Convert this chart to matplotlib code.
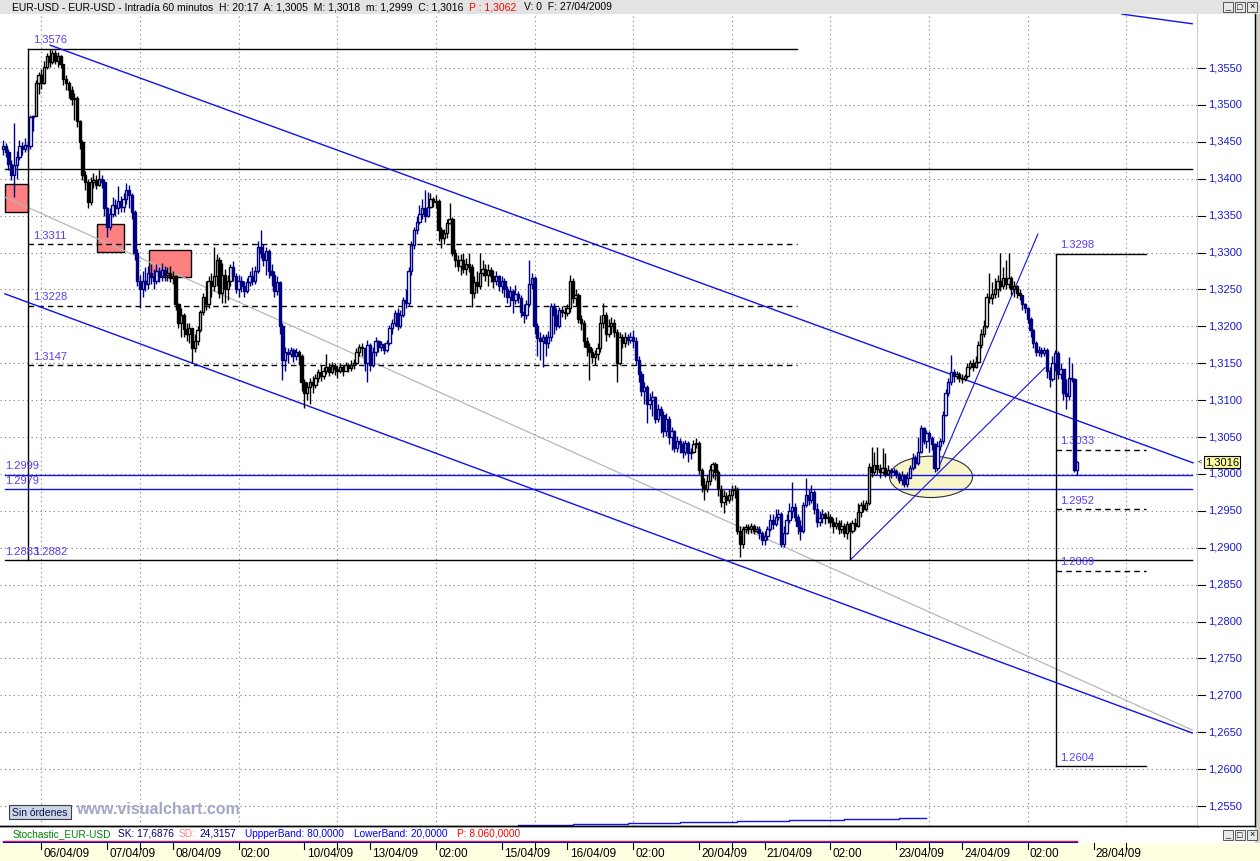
import numpy as np
import matplotlib
matplotlib.use('Agg')
import matplotlib.pyplot as plt
from matplotlib.patches import Rectangle, Ellipse

plt.rcParams['font.family'] = ['Liberation Sans', 'DejaVu Sans']

W, H = 1260, 861

# EUR-USD hourly bars, values in pips above 1.3000 (one list row per trading day)
OPEN0 = 440
CLOSE = [
    445, 436, 420, 405, 418, 430, 444, 440, 446, 444, 484, 485,
    530, 540, 530, 552, 566, 558, 570, 560, 566, 555, 535, 530, 520, 508, 510, 478, 450, 405, 395, 368, 395, 398, 392, 400,
    395, 360, 335, 352, 365, 360, 370, 362, 372, 385, 378, 355, 300, 262, 250, 262, 258, 272, 268, 262, 275, 268, 276, 270,
    272, 265, 268, 230, 205, 215, 196, 190, 198, 170, 180, 195, 220, 240, 230, 262, 255, 268, 290, 245, 270, 250, 262, 280,
    268, 250, 262, 255, 248, 260, 268, 262, 275, 308, 300, 290, 302, 275, 270, 248, 260, 200, 155, 165, 162, 168, 160, 165,
    160, 125, 110, 118, 125, 120, 130, 138, 132, 140, 145, 138, 146, 142, 140, 145, 140, 148, 143, 148, 150, 165, 172, 170,
    150, 175, 148, 165, 180, 172, 176, 168, 178, 198, 205, 218, 200, 215, 236, 232, 275, 310, 330, 342, 352, 360, 350, 362,
    372, 368, 370, 330, 320, 326, 340, 345, 300, 290, 282, 290, 278, 285, 280, 245, 260, 255, 272, 278, 270, 276, 268, 262,
    268, 255, 262, 250, 240, 248, 236, 244, 238, 220, 215, 230, 258, 265, 200, 184, 180, 186, 178, 185, 228, 215, 200, 222,
    220, 218, 225, 262, 238, 242, 210, 205, 180, 172, 165, 158, 162, 170, 205, 215, 190, 200, 205, 192, 150, 185, 178, 185,
    182, 185, 180, 155, 135, 112, 118, 95, 100, 104, 75, 88, 80, 58, 75, 50, 58, 35, 45, 40, 30, 42, 28, 30,
    40, 42, 5, -15, -20, -10, 5, 14, 2, -20, -38, -30, -36, -28, -22, -20, -78, -95, -75, -72, -75, -70, -78, -74,
    -80, -90, -84, -74, -62, -68, -58, -55, -95, -80, -62, -50, -45, -58, -70, -78, -42, -28, -35, -25, -48, -65, -60, -55,
    -60, -58, -65, -70, -66, -75, -70, -80, -68, -78, -66, -70, -52, -42, -48, -40, 10, 2, 12, 6, 2, 8, 0, 5,
    2, 4, 0, -8, -2, -14, -5, 8, 22, 15, 30, 62, 45, 55, 48, 40, 8, 38, 45, 80, 110, 125, 138, 132,
    135, 130, 128, 132, 145, 150, 145, 152, 175, 190, 200, 240, 238, 244, 250, 262, 255, 265, 258, 266, 250, 255, 245, 242,
    230, 225, 210, 195, 178, 165, 168, 164, 168, 140, 128, 150, 164, 135, 142, 110, 105, 130, 128, 5, 16,
]
HIGH = [
    452, 448, 440, 425, 475, 438, 452, 450, 455, 450, 487, 487,
    534, 545, 548, 560, 570, 576, 575, 574, 572, 568, 556, 540, 532, 525, 516, 512, 480, 452, 410, 400, 402, 408, 405, 412,
    405, 400, 362, 360, 375, 372, 390, 376, 380, 394, 392, 380, 358, 305, 270, 275, 280, 282, 285, 278, 284, 280, 286, 282,
    280, 282, 275, 270, 232, 225, 218, 205, 205, 198, 190, 200, 222, 245, 262, 268, 272, 307, 298, 294, 286, 278, 270, 285,
    288, 272, 270, 268, 262, 265, 275, 280, 282, 315, 330, 312, 308, 305, 285, 275, 268, 262, 205, 172, 170, 172, 170, 170,
    168, 162, 128, 124, 130, 132, 135, 142, 148, 145, 162, 150, 152, 150, 148, 150, 148, 152, 150, 154, 156, 170, 176, 178,
    160, 181, 178, 172, 185, 182, 180, 178, 182, 202, 210, 222, 225, 222, 240, 250, 280, 315, 335, 350, 365, 372, 385, 382,
    380, 375, 378, 372, 335, 332, 345, 367, 348, 305, 296, 298, 300, 292, 300, 285, 268, 275, 300, 290, 285, 284, 280, 276,
    275, 270, 268, 265, 255, 255, 250, 256, 248, 242, 230, 236, 290, 272, 268, 205, 192, 190, 190, 194, 232, 232, 225, 226,
    228, 226, 230, 270, 265, 250, 245, 215, 208, 185, 178, 170, 168, 178, 215, 232, 220, 210, 212, 210, 196, 192, 190, 192,
    190, 192, 195, 185, 160, 140, 125, 120, 110, 112, 106, 95, 92, 85, 82, 78, 64, 60, 52, 48, 44, 46, 44, 35,
    46, 48, 45, 8, -5, -2, 12, 16, 16, 5, -15, -22, -25, -20, -15, -15, -18, -70, -70, -68, -68, -66, -68, -70,
    -70, -78, -78, -70, -55, -55, -48, -48, -52, -70, -55, -40, -11, -40, -55, -62, -38, -5, -20, -15, -22, -40, -50, -48,
    -52, -50, -55, -60, -58, -62, -62, -66, -64, -65, -62, -60, -40, -38, -35, -35, 15, 36, 30, 36, 14, 35, 28, 12,
    8, 8, 6, 2, 4, 0, 2, 12, 28, 25, 50, 66, 64, 60, 58, 52, 42, 45, 48, 85, 115, 130, 161, 142,
    140, 138, 135, 136, 150, 155, 156, 160, 180, 196, 208, 245, 272, 260, 265, 270, 299, 280, 290, 299, 268, 262, 256, 250,
    235, 232, 226, 212, 196, 180, 174, 172, 172, 170, 145, 160, 168, 166, 150, 140, 128, 158, 150, 130, 18,
]
LOW = [
    432, 430, 412, 398, 375, 400, 425, 432, 436, 438, 440, 465,
    505, 515, 522, 528, 548, 552, 555, 556, 552, 550, 527, 520, 510, 500, 480, 470, 440, 398, 385, 360, 365, 388, 386, 390,
    388, 350, 321, 330, 348, 350, 352, 355, 355, 366, 360, 345, 290, 255, 225, 240, 248, 250, 258, 250, 258, 260, 262, 262,
    262, 260, 258, 222, 198, 186, 185, 180, 178, 150, 165, 175, 192, 215, 222, 225, 240, 248, 255, 238, 232, 232, 236, 255,
    262, 245, 240, 246, 240, 245, 255, 256, 258, 272, 292, 282, 270, 266, 255, 240, 242, 190, 127, 140, 150, 158, 152, 155,
    148, 112, 89, 100, 95, 110, 116, 125, 126, 128, 135, 132, 136, 134, 130, 137, 133, 140, 138, 140, 142, 148, 160, 160,
    140, 125, 140, 145, 160, 165, 166, 162, 165, 175, 190, 200, 195, 198, 212, 225, 228, 270, 305, 325, 338, 345, 342, 348,
    360, 362, 360, 315, 306, 312, 320, 338, 295, 280, 275, 270, 272, 270, 274, 226, 238, 245, 250, 268, 262, 255, 260, 252,
    256, 248, 245, 240, 232, 228, 218, 230, 232, 212, 205, 210, 228, 250, 190, 160, 155, 145, 160, 170, 180, 190, 195, 198,
    212, 210, 214, 220, 232, 228, 204, 195, 172, 160, 127, 150, 148, 155, 165, 198, 180, 185, 190, 185, 124, 148, 170, 172,
    175, 178, 170, 148, 125, 105, 95, 69, 88, 78, 69, 70, 55, 50, 52, 40, 32, 30, 30, 28, 22, 26, 16, 20,
    28, 35, 0, -25, -35, -25, -15, -5, -8, -30, -45, -53, -42, -40, -35, -32, -82, -113, -100, -80, -82, -80, -82, -80,
    -88, -96, -96, -90, -78, -75, -70, -62, -99, -99, -82, -66, -60, -64, -82, -90, -80, -45, -42, -40, -55, -72, -70, -66,
    -68, -66, -72, -80, -75, -82, -80, -85, -88, -117, -80, -76, -72, -58, -52, -50, -42, -4, -2, 0, -6, 0, -4, -2,
    -5, -2, -5, -12, -15, -18, -18, -6, 5, 8, 12, 28, 40, 35, 30, 32, 2, 5, 32, 40, 78, 105, 120, 125,
    128, 124, 123, 126, 130, 142, 140, 144, 150, 170, 185, 198, 232, 230, 238, 240, 248, 250, 250, 252, 242, 240, 238, 236,
    222, 218, 204, 185, 170, 160, 160, 158, 160, 130, 118, 126, 140, 128, 128, 100, 88, 100, 124, 3, -1,
]

# time axis: a label every day at 02:00 (bar index), grid every 36 bars
TICK_LABELS = ['06/04/09', '07/04/09', '08/04/09', '02:00', '10/04/09', '13/04/09', '02:00',
               '15/04/09', '16/04/09', '02:00', '20/04/09', '21/04/09', '02:00', '23/04/09',
               '24/04/09', '02:00', '28/04/09']
TICK_BARS = [14 + 24 * k for k in range(len(TICK_LABELS))]
GRID_BARS = [14 + 36 * k for k in range(12)]
PRICE_TICKS = [1.2550 + 0.005 * k for k in range(21)]
LAST_PRICE = 1.3016

# drawing objects (bar index, price)
PEAK = 1.3576
PEAK_BAR, BOX_END = 9.1, 289.8
LEFT_DASHED = [1.3311, 1.3228, 1.3147]
FULL_BLACK = [1.3413, 1.2883]
FULL_BLUE = [1.2999, 1.2979]
FIB_BAR, FIB_END = 384.3, 417.2
FIB_SOLID = [1.3298, 1.2604]
FIB_DASHED = [1.3033, 1.2952, 1.2869]
CHAN_UP = ([17.2, 434.3], [1.3581, 1.3015])
CHAN_LO = ([0.7, 434.0], [1.3244, 1.2649])
GRAY_LINE = ([0.7, 434.0], [1.3375, 1.2653])
TOP_LINE = ([408.4, 434.0], [1.3623, 1.3610])
TREND_A = ([309.1, 380.3], [1.2883, 1.3144])
TREND_B = ([340.9, 377.7], [1.3004, 1.3325])
BOXES = [(0.7, 9.1, 1.3355, 1.3393), (34.3, 44.2, 1.3301, 1.3339), (53.3, 68.6, 1.3267, 1.3303)]
ELLIPSE = (338.7, 1.2996, 30.3, 0.0056)
STEP_BARS = [188, 208, 228, 247, 268, 287, 307, 327, 337]
STEP_VALS = [1.25243, 1.25252, 1.25266, 1.25279, 1.25293, 1.25306, 1.2532, 1.25333, 1.25333]

PX = 2.74  # pixels per bar
BLUE = '#1010f0'
LBL = '#5a3df5'


def fr(x0, y0, x1, y1):
    return [x0 / W, 1 - y1 / H, (x1 - x0) / W, (y1 - y0) / H]


c = 1.3 + np.array(CLOSE) / 1e4
hi = 1.3 + np.array(HIGH) / 1e4
lo = 1.3 + np.array(LOW) / 1e4
assert len(c) == len(hi) == len(lo)
o = np.r_[1.3 + OPEN0 / 1e4, c[:-1]]
hi = np.maximum(hi, np.maximum(o, c))
lo = np.minimum(lo, np.minimum(o, c))
x = np.arange(len(c))

fig = plt.figure(figsize=(W / 100, H / 100), dpi=100)
fig.patch.set_facecolor('white')

ax = fig.add_axes(fr(0, 14, 1198, 826))
axp = fig.add_axes(fr(1198, 14, 1255, 826))
axs = fig.add_axes(fr(0, 826, 1260, 843))
axt = fig.add_axes(fr(0, 843, 1260, 861))

YB, YT = 1.25229, 1.36232
ax.set_xlim(-3 / PX, 1195 / PX)
ax.set_ylim(YB, YT)
for s in ['top', 'left']:
    ax.spines[s].set_visible(False)
ax.spines['right'].set_linewidth(1)
ax.spines['bottom'].set_linewidth(1)
ax.set_xticks([])
ax.set_yticks([])

# grid
for p in PRICE_TICKS:
    ax.axhline(p, color='#808080', lw=0.8, ls=(0, (1, 3)), zorder=1)
for b in GRID_BARS:
    ax.axvline(b, color='#808080', lw=0.8, ls=(0, (1, 3)), zorder=1)

# shapes
for x0, x1, y0, y1 in BOXES:
    ax.add_patch(Rectangle((x0, y0), x1 - x0, y1 - y0, facecolor='#ff8080',
                           edgecolor='black', lw=1, zorder=1.5))
ex, ey, ew, eh = ELLIPSE
ax.add_patch(Ellipse((ex, ey), ew, eh, facecolor='#f8f5c8', edgecolor='#303030', lw=0.8, zorder=1.5))

# level lines
ax.plot([PEAK_BAR, PEAK_BAR], [PEAK, FULL_BLACK[1]], color='black', lw=1, zorder=2)
ax.plot([PEAK_BAR, BOX_END], [PEAK, PEAK], color='black', lw=1, zorder=2)
for lv in LEFT_DASHED:
    ax.plot([PEAK_BAR, BOX_END], [lv, lv], color='black', lw=1, ls=(0, (4, 3)), zorder=2)
for lv in FULL_BLACK:
    ax.plot([0.7, 434], [lv, lv], color='black', lw=1, zorder=2)
for lv in FULL_BLUE:
    ax.plot([0.7, 434], [lv, lv], color=BLUE, lw=1, zorder=2)
ax.plot([FIB_BAR, FIB_BAR], FIB_SOLID, color='black', lw=1, zorder=2)
for lv in FIB_SOLID:
    ax.plot([FIB_BAR, FIB_END], [lv, lv], color='black', lw=1, zorder=2)
for lv in FIB_DASHED:
    ax.plot([FIB_BAR, FIB_END], [lv, lv], color='black', lw=1, ls=(0, (4, 3)), zorder=2)

for ln in [CHAN_UP, CHAN_LO, TOP_LINE]:
    ax.plot(*ln, color=BLUE, lw=1, zorder=2)
ax.plot(*TREND_A, color=BLUE, lw=0.8, zorder=2)
ax.plot(*TREND_B, color=BLUE, lw=0.8, zorder=2)
ax.plot(*GRAY_LINE, color='#b8b8b8', lw=0.9, zorder=1.8)
ax.step(STEP_BARS, STEP_VALS, where='post', color=BLUE, lw=1, zorder=2, clip_on=False)

# level labels
labels = [(11, PEAK, '1.3576')] + [(11, lv, f'{lv:.4f}') for lv in LEFT_DASHED]
labels += [(0.7, 1.2999, '1.2999'), (0.7, 1.2979, '1.2979'), (0.7, 1.2883, '1.2883'), (11, 1.2882, '1.2882')]
labels += [(385.8, lv, f'{lv:.4f}') for lv in [1.3298, 1.3033, 1.2952, 1.2869, 1.2604]]
for bx, lv, t in labels:
    ax.annotate(t, (bx, lv), xytext=(0, 6.2), textcoords='offset points', va='center', ha='left',
                fontsize=8, color=LBL, zorder=3)

# candles
day = (x + 12) // 24
col = np.where(day % 2 == 0, '#000080', '#000000')
up = c >= o
ax.vlines(x, lo, hi, colors=col, lw=1.0, zorder=5)
bh = np.maximum(np.abs(c - o), 0.00008)
face = np.where(up, 'white', col)
ax.bar(x, bh, bottom=np.minimum(o, c), width=0.85, color=face, edgecolor=col, linewidth=1.0, zorder=6)

# price axis
axp.set_xlim(0, 1)
axp.set_ylim(YB, YT)
axp.set_xticks([])
axp.set_yticks([])
for s in ['top', 'left']:
    axp.spines[s].set_visible(False)
for p in PRICE_TICKS:
    axp.plot([0.0, 0.12], [p, p], color='black', lw=0.8)
    axp.text(0.17, p, f'{p:.4f}'.replace('.', ','), fontsize=8, color='#1a1acd', va='center', ha='left')
axp.text(0.12, LAST_PRICE, f'{LAST_PRICE:.4f}'.replace('.', ','), fontsize=8, color='black', va='center',
         ha='left', bbox=dict(boxstyle='square,pad=0.12', facecolor='#ffffa0', edgecolor='black', lw=0.8), zorder=5)
axp.text(0.0, LAST_PRICE, '<', fontsize=5.5, color='black', va='center', ha='left')

# stochastic strip
axs.set_xlim(-3 / PX, 1257 / PX)
axs.set_ylim(0, 17)
axs.axis('off')
axs.plot([0, x[-1]], [1.8, 1.8], color='#ff2020', lw=1)
axs.plot([0, x[-1]], [0.8, 0.8], color='#0000ff', lw=1)

# time axis
axt.set_xlim(-3 / PX, 1257 / PX)
axt.set_ylim(18, 0)
axt.set_facecolor('#ffffe1')
for s in axt.spines.values():
    s.set_visible(False)
axt.set_xticks([])
axt.set_yticks([])
for b in sorted(set(TICK_BARS + GRID_BARS)):
    axt.plot([b, b], [0, 6], color='black', lw=0.8)
for b, t in zip(TICK_BARS, TICK_LABELS):
    axt.text(b + 0.8, 11, t, fontsize=8.5, va='center', ha='left', color='black')

# overlay decorations in pixel coordinates
ov = fig.add_axes([0, 0, 1, 1])
ov.set_xlim(0, W)
ov.set_ylim(H, 0)
ov.axis('off')
ov.add_patch(Rectangle((0, 0), W, 14, facecolor='#e3e3e3', edgecolor='none'))
ov.add_patch(Rectangle((1255, 14), 5, 829, facecolor='#d4d0c8', edgecolor='none'))
ov.plot([1255, 1255], [14, 826], color='black', lw=1)
ov.plot([0, 1255], [826, 826], color='black', lw=1)
ov.text(12, 7.5, 'EUR-USD - EUR-USD - Intradía 60 minutos  H: 20:17  A: 1,3005  M: 1,3018  '
        'm: 1,2999  C: 1,3016', fontsize=7.5, va='center', ha='left', color='black')
ov.text(469, 7.5, 'P : 1,3062', fontsize=7.5, va='center', ha='left', color='#ff0000')
ov.text(524, 7.5, 'V: 0  F: 27/04/2009', fontsize=7.5, va='center', ha='left', color='black')
for yb in [2, 830]:
    for bxp, sym in zip([1223, 1235, 1247], ['_', '□', '×']):
        ov.add_patch(Rectangle((bxp, yb), 10, 10, facecolor='#e8e8e8', edgecolor='#404040', lw=0.6))
        ov.text(bxp + 5, yb + 5, sym, fontsize=6.5, ha='center', va='center', color='black')

stoch = [(13, 'Stochastic_EUR-USD', '#008000'), (118, 'SK: 17,6876', '#000080'), (179, 'SD:', '#ff8080'),
         (199, '24,3157', '#000080'), (245, 'UppperBand: 80,0000', '#0000ff'),
         (354, 'LowerBand: 20,0000', '#0000ff'), (457, 'P: 8.060,0000', '#ff0000')]
for sx, t, cl in stoch:
    ov.text(sx, 834, t, fontsize=7.3, va='center', ha='left', color=cl)

ov.add_patch(Rectangle((9, 805), 62, 14, facecolor='#c9d4e8', edgecolor='#404040', lw=0.8))
ov.text(12, 812.5, 'Sin órdenes', fontsize=7.5, va='center', ha='left', color='#101040')
ov.text(76, 810, 'www.visualchart.com', fontsize=11.5, fontweight='bold', va='center', ha='left',
        color='#a3a6c8')

fig.savefig('out.png', dpi=100)
